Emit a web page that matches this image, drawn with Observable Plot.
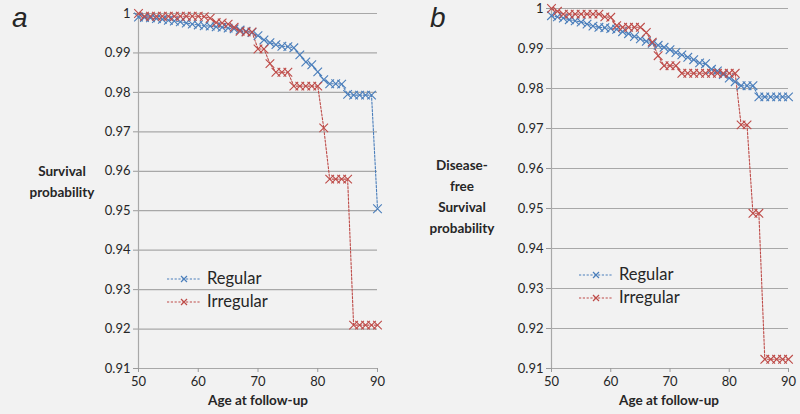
<!DOCTYPE html>
<html>
<head>
<meta charset="utf-8">
<script src="https://cdn.jsdelivr.net/npm/d3@7"></script>
<script src="https://cdn.jsdelivr.net/npm/@observablehq/plot@0.6"></script>
<style>
  html, body { margin: 0; padding: 0; background: #f2f2f2; }
  #wrap { position: relative; width: 800px; height: 414px; overflow: hidden; background: #f2f2f2; font-family: Lato, "Open Sans", sans-serif; color: #262626; }
  .panel { position: absolute; top: 0; }
  .panel svg g[aria-label$="tick"] path { stroke: #9a9a9a; }
  .lbl { position: absolute; font-weight: bold; font-size: 13.5px; text-align: center; line-height: 21px; }
  .letter { position: absolute; font-family: "Liberation Sans", Arial, sans-serif; font-style: italic; font-size: 28px; }
  .leg { position: absolute; font-size: 16.5px; line-height: 23px; }
  .leg div { display: flex; align-items: center; height: 23px; }
  .leg svg { margin-right: 6px; }
</style>
</head>
<body>
<div id="wrap"></div>
<script>
const ages = [50,51,52,53,54,55,56,57,58,59,60,61,62,63,64,65,66,67,68,69,70,71,72,73,74,75,76,77,78,79,80,81,82,83,84,85,86,87,88,89,90];

// Panel a: Survival probability
const regularA = [0.9991,0.9990,0.9989,0.9987,0.9985,0.9983,0.9981,0.9979,0.9976,0.9973,
  0.9971,0.9969,0.9968,0.9966,0.9965,0.9963,0.9961,0.9958,0.9955,0.9952,
  0.9944,0.9933,0.9926,0.9921,0.9917,0.9916,0.9913,0.9895,0.9877,0.9870,
  0.9852,0.9832,0.9822,0.9822,0.9821,0.9795,0.9793,0.9793,0.9793,0.9793,0.9505];
const irregularA = [1.0000,0.9993,0.9993,0.9993,0.9993,0.9993,0.9993,0.9993,0.9993,0.9993,
  0.9993,0.9992,0.9988,0.9977,0.9976,0.9973,0.9965,0.9955,0.9953,0.9953,
  0.9910,0.9910,0.9873,0.9851,0.9851,0.9851,0.9816,0.9816,0.9816,0.9816,
  0.9816,0.9710,0.9580,0.9580,0.9580,0.9580,0.9210,0.9210,0.9210,0.9210,0.9210];

// Panel b: Disease-free survival probability
const regularB = [0.9982,0.9979,0.9976,0.9972,0.9969,0.9966,0.9961,0.9956,0.9953,0.9952,
  0.9950,0.9948,0.9942,0.9937,0.9930,0.9924,0.9918,0.9913,0.9908,0.9903,
  0.9897,0.9890,0.9884,0.9878,0.9872,0.9864,0.9862,0.9848,0.9844,0.9835,
  0.9826,0.9817,0.9807,0.9807,0.9807,0.9779,0.9779,0.9779,0.9779,0.9779,0.9779];
const irregularB = [1.0000,0.9993,0.9986,0.9986,0.9986,0.9986,0.9986,0.9986,0.9986,0.9979,
  0.9978,0.9957,0.9953,0.9953,0.9953,0.9953,0.9940,0.9916,0.9882,0.9857,
  0.9857,0.9857,0.9838,0.9838,0.9838,0.9838,0.9838,0.9838,0.9838,0.9838,
  0.9838,0.9838,0.9709,0.9709,0.9488,0.9488,0.9123,0.9123,0.9123,0.9123,0.9123];

const seriesNames = ["Regular", "Irregular"];
const seriesColors = ["#4a7ebb", "#be4b48"];
const xTicks = [50, 60, 70, 80, 90];
const yTicks = [0.91, 0.92, 0.93, 0.94, 0.95, 0.96, 0.97, 0.98, 0.99, 1];
const yTickLabels = ["0.91","0.92","0.93","0.94","0.95","0.96","0.97","0.98","0.99","1"];
const xTitle = "Age at follow-up";

function rows(reg, irr) {
  const out = [];
  ages.forEach((a, i) => out.push({age: a, v: reg[i], s: seriesNames[0]}));
  ages.forEach((a, i) => out.push({age: a, v: irr[i], s: seriesNames[1]}));
  return out;
}

function panel(data, m) {
  return Plot.plot({
    width: 400, height: 414,
    marginLeft: m.left, marginRight: m.right, marginTop: m.top, marginBottom: m.bottom,
    style: {background: "transparent", fontFamily: "Lato, 'Open Sans', sans-serif", fontSize: "13px", color: "#262626"},
    x: {domain: [50, 90]},
    y: {domain: [0.91, 1]},
    color: {domain: seriesNames, range: seriesColors},
    marks: [
      Plot.gridY(yTicks, {stroke: "#a8a8a8", strokeOpacity: 1, strokeWidth: 1.2}),
      Plot.ruleX([50], {stroke: "#a8a8a8", strokeWidth: 1.2}),
      Plot.axisY(yTicks, {tickSize: 5, tickPadding: 3, tickFormat: (d, i) => yTickLabels[yTicks.indexOf(d)], label: null, fontSize: 13}),
      Plot.axisX(xTicks, {tickSize: 4, tickPadding: 4, label: null, fontSize: 13}),
      Plot.line(data, {x: "age", y: "v", z: "s", stroke: "s", strokeWidth: 1.1, strokeDasharray: "2.2,1.6"}),
      Plot.dot(data, {x: "age", y: "v", stroke: "s", symbol: "times", r: 4, strokeWidth: 1.1})
    ]
  });
}

const wrap = document.getElementById("wrap");

const pa = document.createElement("div");
pa.className = "panel"; pa.style.left = "0px";
pa.appendChild(panel(rows(regularA, irregularA), {left: 138, right: 23, top: 13, bottom: 46}));
wrap.appendChild(pa);

const pb = document.createElement("div");
pb.className = "panel"; pb.style.left = "400px";
pb.appendChild(panel(rows(regularB, irregularB), {left: 151, right: 12, top: 8, bottom: 46}));
wrap.appendChild(pb);

function addDiv(cls, html, css) {
  const d = document.createElement("div");
  d.className = cls; d.innerHTML = html;
  Object.assign(d.style, css);
  wrap.appendChild(d);
  return d;
}

addDiv("letter", "a", {left: "12px", top: "2px"});
addDiv("letter", "b", {left: "430px", top: "2px"});

addDiv("lbl", "Survival<br>probability", {left: "12px", top: "161px", width: "100px"});
addDiv("lbl", "Disease-<br>free<br>Survival<br>probability", {left: "412px", top: "155px", width: "100px"});

addDiv("lbl", xTitle, {left: "178px", top: "390px", width: "160px"});
addDiv("lbl", xTitle, {left: "589px", top: "390px", width: "160px"});

function swatch(color) {
  return `<svg width="34" height="12"><line x1="0" y1="6" x2="34" y2="6" stroke="${color}" stroke-width="1.1" stroke-dasharray="2.2,1.6"/>` +
    `<path d="M14 3 L20 9 M20 3 L14 9" stroke="${color}" stroke-width="1.2"/></svg>`;
}
function legendHtml() {
  return seriesNames.map((n, i) => `<div>${swatch(seriesColors[i])}<span>${n}</span></div>`).join("");
}
addDiv("leg", legendHtml(), {left: "167px", top: "267px"});
addDiv("leg", legendHtml(), {left: "579px", top: "263px"});
</script>
</body>
</html>
